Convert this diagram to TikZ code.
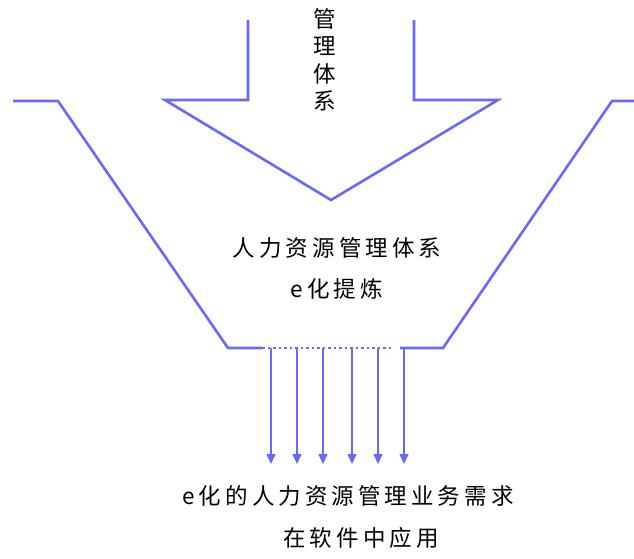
\documentclass[tikz,border=0pt]{standalone}
\usepackage{fontspec}
\newfontfamily\cjk[LetterSpace=18]{Noto Sans CJK SC}
\usetikzlibrary{arrows.meta}
\definecolor{lineblue}{RGB}{104,104,255}
\begin{document}
\begin{tikzpicture}[x=1pt,y=-1pt,
  outline/.style={draw=lineblue,line width=2.6pt,line join=miter},
  flow/.style={draw=lineblue,line width=1.6pt,-{Triangle[length=10pt,width=9pt]}},
  label/.style={font=\cjk\fontsize{22.5}{22.5}\selectfont,inner sep=0pt,anchor=center}]
\useasboundingbox (0,0) rectangle (634,558);
% big down arrow
\draw[outline] (248,20) -- (248,100) -- (165,100) -- (331,200) -- (498,100) -- (414,100) -- (414,20);
% funnel
\draw[outline] (13,101) -- (58,101) -- (228,348) -- (262,348);
\draw[outline] (400,348) -- (443,348) -- (612,101) -- (634,101);
\draw[draw=lineblue,line width=2.2pt,dash pattern=on 2.5pt off 3pt] (262,348) -- (394,348);
% arrows
\foreach \x [count=\i] in {271,297,323,352,378,404}{
  \coordinate (s\i) at (\x,348);
  \coordinate (e\i) at (\x,464);
  \draw[flow] (s\i) -- (e\i);
}
% labels
\node[label,align=center] (sys) at (325,60) {管\\[5pt]理\\[5pt]体\\[5pt]系};
\node[label] (hr) at (337,248) {人力资源管理体系};
\node[label] (ex) at (337,289) {e化提炼};
\node[label] (req) at (348,496) {e化的人力资源管理业务需求};
\node[label] (app) at (361,538) {在软件中应用};
\end{tikzpicture}
\end{document}
